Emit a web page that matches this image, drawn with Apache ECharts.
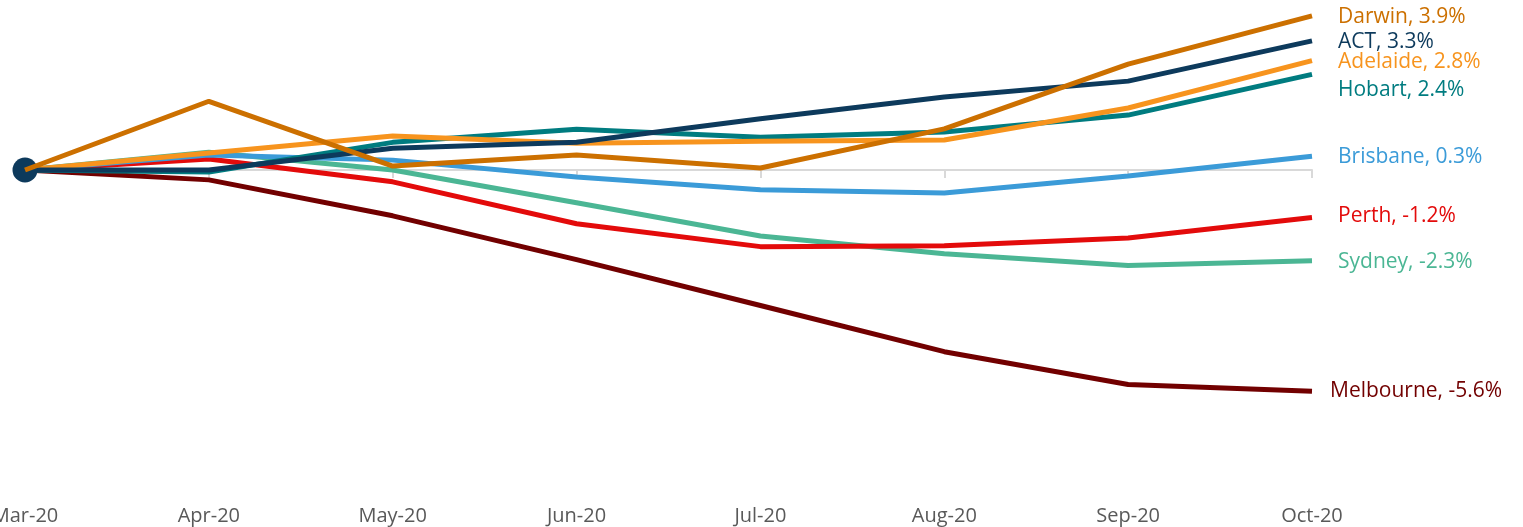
<!DOCTYPE html>
<html><head><meta charset="utf-8">
<script src="https://cdn.jsdelivr.net/npm/echarts@6/dist/echarts.min.js"></script>
<style>html,body{margin:0;padding:0;background:#fff}#c{width:1523px;height:527px}</style>
</head><body><div id="c"></div>
<script>
const categories = ['Mar-20','Apr-20','May-20','Jun-20','Jul-20','Aug-20','Sep-20','Oct-20'];
const seriesNames = ['Sydney','Melbourne','Perth','Brisbane','Hobart','Adelaide','ACT','Darwin'];
const sydney    = [0, 0.45, 0.00, -0.83, -1.67, -2.12, -2.42, -2.3];
const melbourne = [0, -0.25, -1.16, -2.27, -3.43, -4.60, -5.43, -5.6];
const perth     = [0, 0.28, -0.30, -1.36, -1.94, -1.92, -1.72, -1.2];
const brisbane  = [0, 0.38, 0.25, -0.18, -0.50, -0.58, -0.15, 0.35];
const hobart    = [0, -0.05, 0.70, 1.03, 0.83, 0.96, 1.39, 2.42];
const adelaide  = [0, 0.43, 0.86, 0.68, 0.73, 0.76, 1.57, 2.77];
const act       = [0, 0.00, 0.55, 0.70, 1.30, 1.85, 2.25, 3.27];
const darwin    = [0, 1.74, 0.10, 0.38, 0.05, 1.04, 2.68, 3.9];
const endLabels = ['Sydney, -2.3%','Melbourne, -5.6%','Perth, -1.2%','Brisbane, 0.3%','Hobart, 2.4%','Adelaide, 2.8%','ACT, 3.3%','Darwin, 3.9%'];

const values = [sydney, melbourne, perth, brisbane, hobart, adelaide, act, darwin];
const colors = ['#4BB694','#720000','#E30B0B','#3B9BD8','#007C80','#F7941E','#0D3A5C','#CC7000'];
const labelOffsets = [[26,1],[18,0],[26,-1],[26,1],[26,16],[26,1],[26,1],[26,1]];

const yMin = -8, yMax = 4, gridTop = 12, gridBottom = 41, H = 527;
const plotH = H - gridTop - gridBottom;
const zeroOffset = -plotH * (0 - yMin) / (yMax - yMin);

const chart = echarts.init(document.getElementById('c'));
chart.setOption({
  animation: false,
  grid: {left: 25, right: 211, top: gridTop, bottom: gridBottom, containLabel:false, outerBoundsMode:'none'},
  xAxis: [
    {type:'category', data: categories, boundaryGap:false, position:'bottom',
     axisLine:{show:false}, axisTick:{show:false}, splitLine:{show:false},
     axisLabel:{color:'#595959', fontFamily:'Open Sans', fontSize:20, margin:20, interval:0}},
    {type:'category', data: categories, boundaryGap:false, position:'bottom', offset: zeroOffset,
     axisLine:{show:true, onZero:false, lineStyle:{color:'#D9D9D9', width:2}},
     axisTick:{show:true, inside:false, length:8, lineStyle:{color:'#D9D9D9', width:2}},
     axisLabel:{show:false}, splitLine:{show:false}}
  ],
  yAxis: {type:'value', min:yMin, max:yMax, show:false, splitLine:{show:false}},
  series: values.map((v,i)=>({
    name: seriesNames[i], type:'line', xAxisIndex: 0, data: v,
    symbol: seriesNames[i]==='ACT' ? 'circle' : 'none',
    symbolSize: (val, p) => p.dataIndex === 0 ? 25 : 0,
    showSymbol: seriesNames[i]==='ACT',
    itemStyle:{color: colors[i]},
    lineStyle:{color: colors[i], width:5},
    z: 2 + i,
    endLabel:{show:true, formatter: endLabels[i], color: colors[i], fontFamily:'Open Sans', fontSize:21,
      distance:0, offset: labelOffsets[i]}
  })).concat([{type:'line', xAxisIndex:1, data:[], silent:true}])
});
</script></body></html>
